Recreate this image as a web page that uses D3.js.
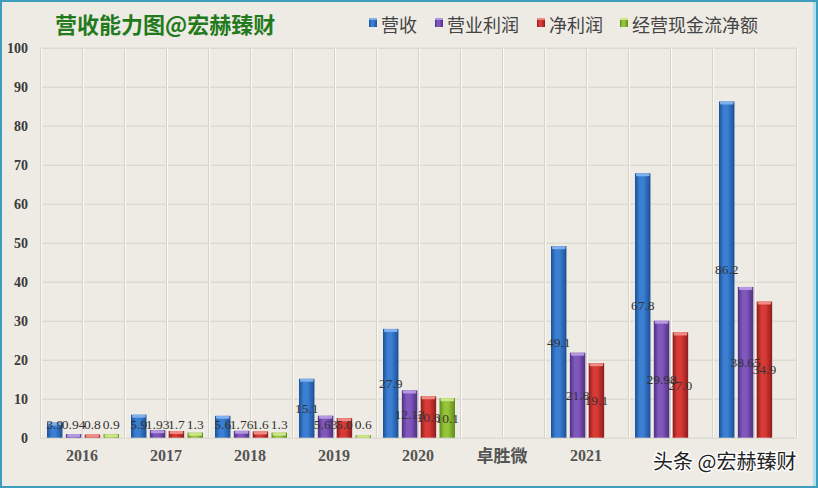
<!DOCTYPE html>
<html>
<head>
<meta charset="utf-8">
<script src="https://cdn.jsdelivr.net/npm/d3@7"></script>
<style>
  html, body { margin: 0; padding: 0; background: #eeebe4; }
  svg { display: block; }
</style>
</head>
<body>
<div id="chart"></div>
<script>
// data
var categories = ["2016", "2017", "2018", "2019", "2020", "卓胜微", "2021", "2022", "2023"];
var tickLabels = ["2016", "2017", "2018", "2019", "2020", "卓胜微", "2021", "", ""];
var seriesNames = ["营收", "营业利润", "净利润", "经营现金流净额"];
var revenue      = [3.9, 5.9, 5.6, 15.1, 27.9, null, 49.1, 67.8, 86.2];
var opProfit     = [0.94, 1.93, 1.76, 5.63, 12.13, null, 21.8, 29.98, 38.65];
var netProfit    = [0.8, 1.7, 1.6, 5.0, 10.6, null, 19.1, 27.0, 34.9];
var cashFlow     = [0.9, 1.3, 1.3, 0.6, 10.1, null, null, null, null];
var yTicks = [0, 10, 20, 30, 40, 50, 60, 70, 80, 90, 100];

var seriesValues = [revenue, opProfit, netProfit, cashFlow];
// [edge, mid, highlight]
var colors = [
  ["#1d4f96", "#3a7fd2", "#7fb0ec"],
  ["#4f2f80", "#8058bc", "#b497e0"],
  ["#8e1c1c", "#d83a36", "#f08a84"],
  ["#5f8a1a", "#96c43a", "#cde585"]
];

var W = 818, H = 488,
  margin = { top: 47.7, right: 22, bottom: 50.3, left: 40 };

var svg = d3.select("#chart").append("svg")
  .attr("width", W)
  .attr("height", H);

var defs = svg.append("defs");
colors.forEach(function (c, i) {
  var g = defs.append("linearGradient").attr("id", "grad" + i)
    .attr("x1", "0").attr("x2", "1").attr("y1", "0").attr("y2", "0");
  g.append("stop").attr("offset", "0%").attr("stop-color", c[0]);
  g.append("stop").attr("offset", "30%").attr("stop-color", c[1]);
  g.append("stop").attr("offset", "55%").attr("stop-color", c[1]);
  g.append("stop").attr("offset", "100%").attr("stop-color", c[0]);
});

// background
svg.append("rect").attr("x", 0).attr("y", 0).attr("width", W).attr("height", H).attr("fill", "#eeebe4");

var x0 = d3.scaleBand().domain(categories).range([margin.left, W - margin.right]).padding(0);
var x1 = d3.scaleBand().domain(d3.range(seriesNames.length)).range([7, x0.bandwidth() - 5]).paddingInner(0.18);
var y = d3.scaleLinear().domain([0, 100]).range([H - margin.bottom, margin.top]);

// grid
var grid = svg.append("g");
grid.selectAll("line.h").data(yTicks).enter().append("line")
  .attr("x1", margin.left).attr("x2", W - margin.right)
  .attr("y1", function (d) { return y(d) + 0.5; }).attr("y2", function (d) { return y(d) + 0.5; })
  .attr("stroke", "#d6d2ca").attr("stroke-width", 1);
var vgrid = d3.range(categories.length * 2 + 1).map(function (i) { return margin.left + i * x0.bandwidth() / 2; });
grid.selectAll("line.v").data(vgrid).enter().append("line")
  .attr("x1", function (d) { return d + 0.5; }).attr("x2", function (d) { return d + 0.5; })
  .attr("y1", margin.top).attr("y2", y(0))
  .attr("stroke", "#d6d2ca").attr("stroke-width", 1);
grid.selectAll("line.vw").data(vgrid).enter().append("line")
  .attr("x1", function (d) { return d + 1.5; }).attr("x2", function (d) { return d + 1.5; })
  .attr("y1", margin.top).attr("y2", y(0))
  .attr("stroke", "#fbfaf7").attr("stroke-width", 1);

// y axis labels
var yAxis = svg.append("g")
  .attr("transform", "translate(" + (margin.left - 12) + ",0)")
  .call(d3.axisLeft(y).tickValues(yTicks).tickSize(0).tickPadding(0));
yAxis.select(".domain").remove();
yAxis.selectAll("text")
  .attr("font-family", "Liberation Serif, serif")
  .attr("font-size", "14px")
  .attr("font-weight", "bold")
  .attr("fill", "#3a3a3a");

// x axis labels
var xAxis = svg.append("g")
  .attr("transform", "translate(0," + y(0) + ")")
  .call(d3.axisBottom(x0).tickSize(0).tickPadding(12).tickFormat(function (d, i) { return tickLabels[i]; }));
xAxis.select(".domain").remove();
xAxis.selectAll("text")
  .attr("font-family", function (d) { return /\d/.test(d) ? "Liberation Serif, serif" : "Noto Sans CJK SC, sans-serif"; })
  .attr("font-size", function (d) { return /\d/.test(d) ? "16px" : "17px"; })
  .attr("font-weight", "bold")
  .attr("fill", "#555");

// bars
var bars = [];
categories.forEach(function (c, ci) {
  seriesValues.forEach(function (vals, si) {
    if (vals[ci] != null) bars.push({ cat: c, s: si, v: vals[ci] });
  });
});

var bg = svg.append("g");
var bar = bg.selectAll("g.bar").data(bars).enter().append("g").attr("class", "bar");
bar.append("rect")
  .attr("x", function (d) { return x0(d.cat) + x1(d.s); })
  .attr("y", function (d) { return y(d.v); })
  .attr("width", x1.bandwidth())
  .attr("height", function (d) { return y(0) - y(d.v); })
  .attr("fill", function (d) { return "url(#grad" + d.s + ")"; });
bar.append("rect")
  .attr("x", function (d) { return x0(d.cat) + x1(d.s) + 1; })
  .attr("y", function (d) { return y(d.v); })
  .attr("width", x1.bandwidth() - 2)
  .attr("height", function (d) { return Math.min(3, y(0) - y(d.v)); })
  .attr("rx", 1)
  .attr("fill", function (d) { return colors[d.s][2]; });

// value labels, centred in the bar
function fmt(v) { return Number.isInteger(v) ? v.toFixed(1) : String(v); }
bg.selectAll("text.val").data(bars).enter().append("text")
  .attr("x", function (d) { return x0(d.cat) + x1(d.s) + x1.bandwidth() / 2; })
  .attr("y", function (d) { return Math.min(y(d.v / 2), y(0) - 13); })
  .attr("dy", "0.35em")
  .attr("text-anchor", "middle")
  .attr("font-family", "Liberation Serif, serif")
  .attr("font-size", "13.5px")
  .attr("fill", "#333")
  .text(function (d) { return fmt(d.v); });

// title
svg.append("text")
  .attr("x", 55).attr("y", 33)
  .attr("font-family", "Noto Sans CJK SC, sans-serif")
  .attr("font-size", "22px")
  .attr("font-weight", "bold")
  .attr("fill", "#237a1c")
  .text("营收能力图@宏赫臻财");

// legend
var legendX = [369, 435, 537, 620];
var lg = svg.append("g").selectAll("g").data(seriesNames).enter().append("g")
  .attr("transform", function (d, i) { return "translate(" + legendX[i] + ",18)"; });
lg.append("rect").attr("x", 0).attr("y", 0).attr("width", 8).attr("height", 9)
  .attr("fill", function (d, i) { return "url(#grad" + i + ")"; });
lg.append("rect").attr("x", 0).attr("y", 0).attr("width", 8).attr("height", 2)
  .attr("fill", function (d, i) { return colors[i][2]; });
lg.append("text")
  .attr("x", 12).attr("y", 8)
  .attr("dy", "0.35em")
  .attr("font-family", "Noto Sans CJK SC, sans-serif")
  .attr("font-size", "18px")
  .attr("fill", "#444")
  .text(function (d) { return d; });

// watermark
svg.append("text")
  .attr("x", 653).attr("y", 469)
  .attr("font-family", "Noto Sans CJK SC, sans-serif")
  .attr("font-size", "20px")
  .attr("fill", "#222")
  .attr("stroke", "#ffffff")
  .attr("stroke-width", 2.5)
  .attr("paint-order", "stroke")
  .text("头条 @宏赫臻财");

// frame
svg.append("rect").attr("x", 1).attr("y", 1).attr("width", W - 2).attr("height", H - 2)
  .attr("fill", "none").attr("stroke", "#3d9dbd").attr("stroke-width", 2);
svg.append("rect").attr("x", W - 5).attr("y", 2).attr("width", 3).attr("height", H - 4)
  .attr("fill", "#aee0ee");
</script>
</body>
</html>
